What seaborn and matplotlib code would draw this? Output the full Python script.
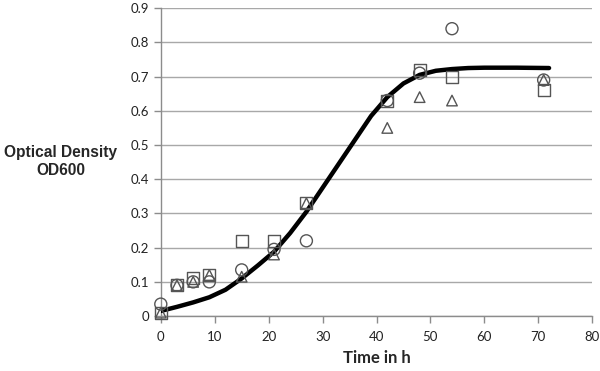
import matplotlib
matplotlib.use("Agg")
import matplotlib.pyplot as plt
import seaborn as sns
import pandas as pd

sns.set_style("white")
plt.rcParams["font.family"] = ["Lato", "DejaVu Sans"]

# measured time points (h)
time_h = [0, 3, 6, 9, 15, 21, 27, 42, 48, 54, 71]
od_square = [0.01, 0.09, 0.11, 0.12, 0.22, 0.22, 0.33, 0.63, 0.72, 0.70, 0.66]
od_triangle = [0.01, 0.09, 0.10, 0.12, 0.115, 0.18, 0.33, 0.55, 0.64, 0.63, 0.69]
od_circle = [0.035, 0.09, 0.10, 0.10, 0.135, 0.195, 0.22, 0.63, 0.71, 0.84, 0.69]

# fitted growth curve
fit_t = [0, 3, 6, 9, 12, 15, 18, 21, 24, 27, 30, 33, 36, 39, 42, 45, 48, 51, 54, 57, 60, 66, 72]
fit_od = [0.015, 0.027, 0.04, 0.055, 0.077, 0.11, 0.148, 0.188, 0.243, 0.305, 0.375, 0.445,
          0.515, 0.585, 0.64, 0.68, 0.705, 0.717, 0.722, 0.725, 0.726, 0.726, 0.725]

fig = plt.figure(figsize=(6, 3.71), dpi=100)
ax = fig.add_axes([0.268, 0.148, 0.719, 0.830])

ax.grid(axis="y", color="#a8a8a8", linewidth=1.0)
ax.set_axisbelow(True)

fit = pd.DataFrame({"t": fit_t, "od": fit_od})
sns.lineplot(data=fit, x="t", y="od", color="black", linewidth=3.2, ax=ax, zorder=3)

mk = dict(facecolors="none", edgecolors="#555555", linewidths=1.0, zorder=4, clip_on=False)
sns.scatterplot(x=time_h, y=od_square, marker="s", s=75, ax=ax, **mk)
sns.scatterplot(x=time_h, y=od_triangle, marker="^", s=58, ax=ax, **mk)
sns.scatterplot(x=time_h, y=od_circle, marker="o", s=75, ax=ax, **mk)

ax.set_xlim(0, 80)
ax.set_ylim(0, 0.9)
ax.set_xticks(range(0, 81, 10))
ax.set_yticks([i / 10 for i in range(10)])
ax.set_yticklabels(["0"] + [f"{i / 10:.1f}" for i in range(1, 10)])
ax.margins(0)

for side in ["top", "right"]:
    ax.spines[side].set_visible(False)
for side in ["left", "bottom"]:
    ax.spines[side].set_color("#8c8c8c")
    ax.spines[side].set_linewidth(1.0)
ax.tick_params(axis="both", direction="out", length=5, width=1, color="#8c8c8c",
               labelsize=9.5, labelcolor="#222222", left=True, bottom=True)
ax.tick_params(axis="x", pad=6)

ax.set_xlabel("Time in h", fontsize=12, fontweight="bold", labelpad=5)
ax.set_ylabel("")
fig.text(0.101, 0.566, "Optical Density\nOD600", ha="center", va="center",
         fontsize=11.2, fontweight="bold", family=["Liberation Sans", "DejaVu Sans"],
         linespacing=1.25)

fig.savefig("out.png", dpi=100)
